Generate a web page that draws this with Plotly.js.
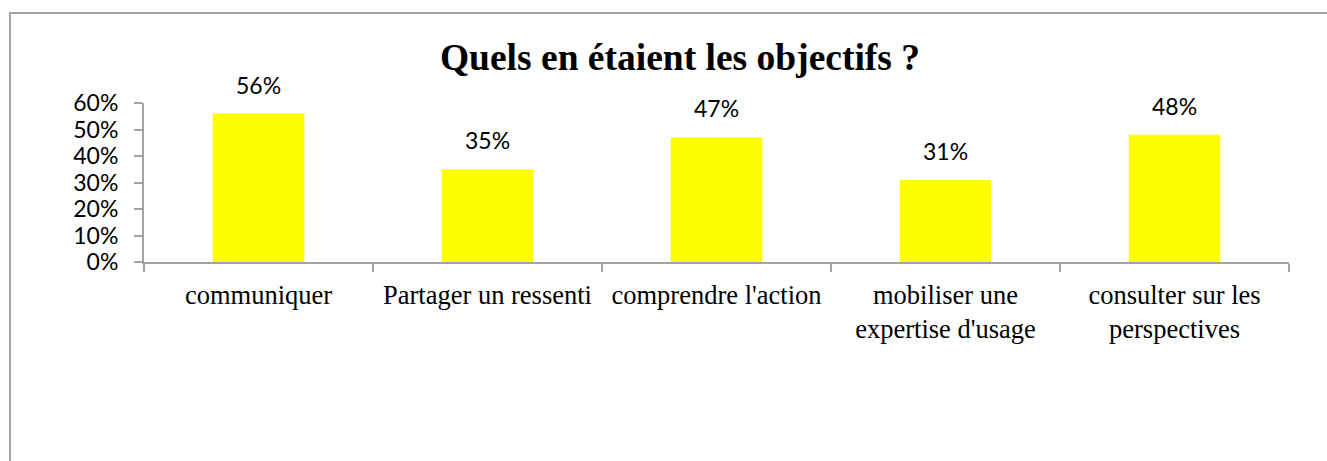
<!DOCTYPE html>
<html>
<head>
<meta charset="utf-8">
<script src="https://cdn.plot.ly/plotly-3.0.1.min.js"></script>
<style>
  html, body { margin: 0; padding: 0; background: #fff; overflow: hidden; }
  #frame { position: absolute; left: 9px; top: 12px; width: 1400px; height: 500px;
           border-top: 2px solid #a3a3a3; border-left: 2px solid #a3a3a3; box-sizing: border-box; }
  #chart { position: absolute; left: 0; top: 0; width: 1327px; height: 461px; }
</style>
</head>
<body>
<div id="frame"></div>
<div id="chart"></div>
<script>
const categories = [
  "communiquer",
  "Partager un ressenti",
  "comprendre l'action",
  "mobiliser une<br>expertise d'usage",
  "consulter sur les<br>perspectives"
];
const values = [0.56, 0.35, 0.47, 0.31, 0.48];
const valueLabels = ["56%", "35%", "47%", "31%", "48%"];
const yTickValues = [0, 0.1, 0.2, 0.3, 0.4, 0.5, 0.6];
const yTickLabels = ["0%", "10%", "20%", "30%", "40%", "50%", "60%"];

const sansFont = "Lato, 'Open Sans', sans-serif";
const serifFont = "'Liberation Serif', 'Times New Roman', serif";
const axisGrey = "#a3a3a3";

const trace = {
  type: "bar",
  x: categories,
  y: values,
  marker: { color: "#ffff00" },
  hoverinfo: "skip"
};

const annotations = categories.map((c, i) => ({
  x: c, y: values[i], xref: "x", yref: "y",
  text: valueLabels[i], showarrow: false,
  yanchor: "bottom", yshift: 13,
  font: { family: sansFont, size: 23, color: "#000" }
}));

const layout = {
  width: 1327, height: 461,
  paper_bgcolor: "rgba(0,0,0,0)",
  plot_bgcolor: "rgba(0,0,0,0)",
  margin: { l: 144, r: 38, t: 103, b: 199, pad: 0 },
  bargap: 0.6,
  showlegend: false,
  title: {
    text: "Quels en étaient les objectifs ?",
    font: { family: serifFont, size: 37.5, color: "#000", weight: "bold" },
    xref: "container", x: 680 / 1327, xanchor: "center",
    yref: "container", y: 1 - 57 / 461, yanchor: "middle"
  },
  xaxis: {
    type: "category",
    showline: true, linecolor: axisGrey, linewidth: 2,
    ticks: "outside", tickson: "boundaries", ticklen: 8, tickwidth: 2, tickcolor: axisGrey,
    showgrid: false, zeroline: false,
    tickfont: { family: serifFont, size: 26.5, color: "#000" },
    ticklabelstandoff: 8,
    automargin: false
  },
  yaxis: {
    range: [0, 0.6],
    tickvals: yTickValues, ticktext: yTickLabels,
    showline: true, linecolor: axisGrey, linewidth: 2,
    ticks: "outside", ticklen: 8, tickwidth: 2, tickcolor: axisGrey,
    showgrid: false, zeroline: false,
    tickfont: { family: sansFont, size: 23, color: "#000" },
    ticklabelstandoff: 11,
    automargin: false
  },
  annotations: annotations
};

Plotly.newPlot("chart", [trace], layout, { displayModeBar: false, staticPlot: true });
</script>
</body>
</html>
